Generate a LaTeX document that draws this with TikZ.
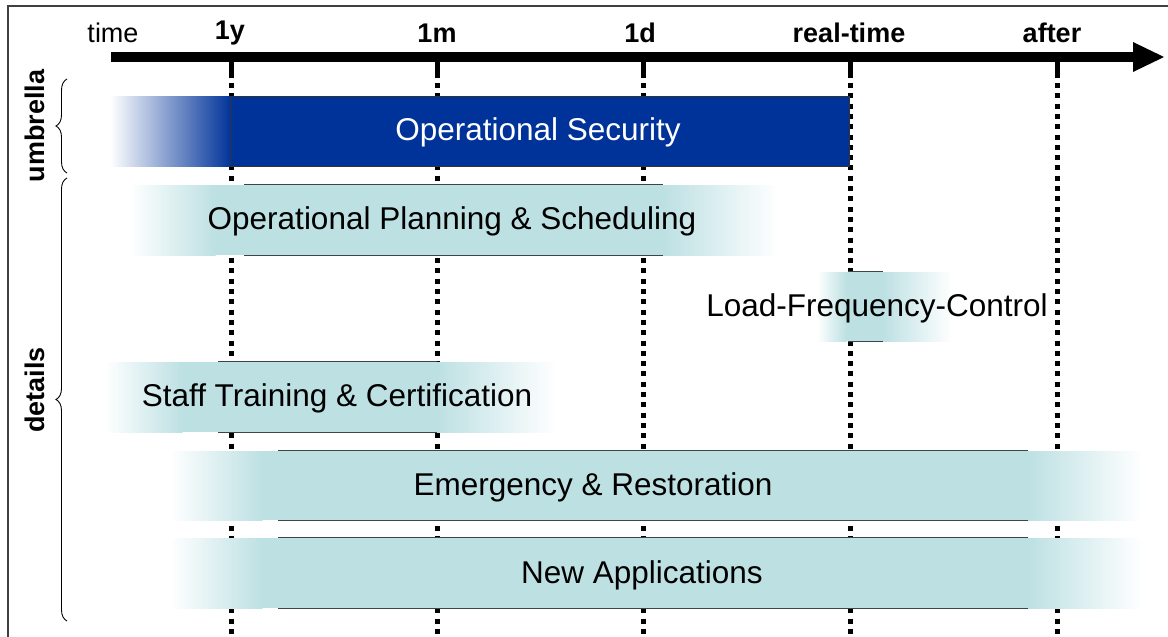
\documentclass[tikz,border=0pt]{standalone}
\usepackage{fontspec}
\setmainfont{Liberation Sans}
\usetikzlibrary{decorations.pathreplacing}
\definecolor{teal1}{RGB}{189,224,227}
\definecolor{opblue}{RGB}{0,51,153}
\definecolor{edge}{RGB}{60,70,72}
\tikzset{
  ticklbl/.style={font=\fontsize{27}{32}\selectfont\bfseries, inner sep=0pt},
  barlbl/.style={font=\fontsize{31.5}{37}\selectfont, inner sep=0pt},
  sidelbl/.style={font=\fontsize{27}{32}\selectfont\bfseries, inner sep=0pt, rotate=90},
  dotline/.style={line width=5pt, dash pattern=on 5pt off 5.3pt},
  tickmark/.style={line width=5pt},
  bracestyle/.style={decorate, decoration={brace, amplitude=11pt}, line width=0.9pt},
  frameline/.style={line width=1.3pt, draw=black!75}
}
% a, b: left fade; b..c solid; c..d right fade; t,u top/bottom; l,r core lines
\newcommand{\fadebar}[8]{%
  \fill[white] (#1,#5) rectangle (#4,#6);
  \shade[left color=white, right color=teal1] (#1,#5) rectangle (#2+0.5,#6);
  \fill[teal1] (#2,#5) rectangle (#3,#6);
  \shade[left color=teal1, right color=white] (#3-0.5,#5) rectangle (#4,#6);
  \draw[edge, line width=1.4pt] (#7,#5-0.6) -- (#8,#5-0.6) (#7,#6+0.6) -- (#8,#6+0.6);
}
\begin{document}
\begin{tikzpicture}[x=1pt, y=-1pt]
\useasboundingbox (0,0) rectangle (1168,637);
% frame (only top and left visible)
\draw[frameline] (1168,6) -- (8,6) -- (8,637);
% time axis
\coordinate (axL) at (111,57);
\coordinate (axR) at (1136,57);
\draw[line width=10pt] (axL) -- (axR);
\fill (1133,42) -- (1164,57) -- (1133,72) -- cycle;
% tick labels
\node[ticklbl, font=\fontsize{27}{32}\selectfont] (tTime) at (113,33) {time};
\node[ticklbl] (t1y) at (230,33) {1y};
\node[ticklbl] (t1m) at (437,33) {1m};
\node[ticklbl] (t1d) at (640,33) {1d};
\node[ticklbl] (tRT) at (849,33) {real-time};
\node[ticklbl] (tAf) at (1052,33) {after};
% ticks and dotted lines
\foreach \xx in {231,437,643,850,1057}{
  \draw[tickmark] (\xx,60) -- (\xx,78);
  \draw[dotline] (\xx,83) -- (\xx,637);
}
% Operational Security bar
\fill[white] (110,96) rectangle (231.5,166);
\shade[left color=white, right color=opblue] (110,96) rectangle (231.5,166);
\draw[fill=opblue, draw=black!80, line width=1pt] (231,96) rectangle (849,166);
\node[barlbl, text=white] (opsec) at (538,132) {Operational Security};
% detail bars
\fadebar{130}{215}{663}{778}{185}{255}{244}{663}
\node[barlbl] (opplan) at (452,221) {Operational Planning \& Scheduling};
\fadebar{817}{846}{883}{952}{272}{341}{848}{883}
\node[barlbl] (lfc) at (877,308) {Load-Frequency-Control};
\fadebar{105}{182}{437}{556}{362}{432}{218}{437}
\node[barlbl] (staff) at (337,398) {Staff Training \& Certification};
\fadebar{170}{262}{1028}{1142}{451}{520}{278}{1028}
\node[barlbl] (emerg) at (593,487) {Emergency \& Restoration};
\fadebar{170}{262}{1028}{1142}{538}{608}{278}{1028}
\node[barlbl] (newapp) at (642,575) {New Applications};
% braces and side labels
\coordinate (bu1) at (67,173);
\coordinate (bu2) at (67,79);
\coordinate (bd1) at (67,621);
\coordinate (bd2) at (67,178);
\draw[bracestyle] (bu1) -- (bu2);
\draw[bracestyle] (bd1) -- (bd2);
\node[sidelbl] (umb) at (35,126) {umbrella};
\node[sidelbl] (det) at (35,390) {details};
\end{tikzpicture}
\end{document}
